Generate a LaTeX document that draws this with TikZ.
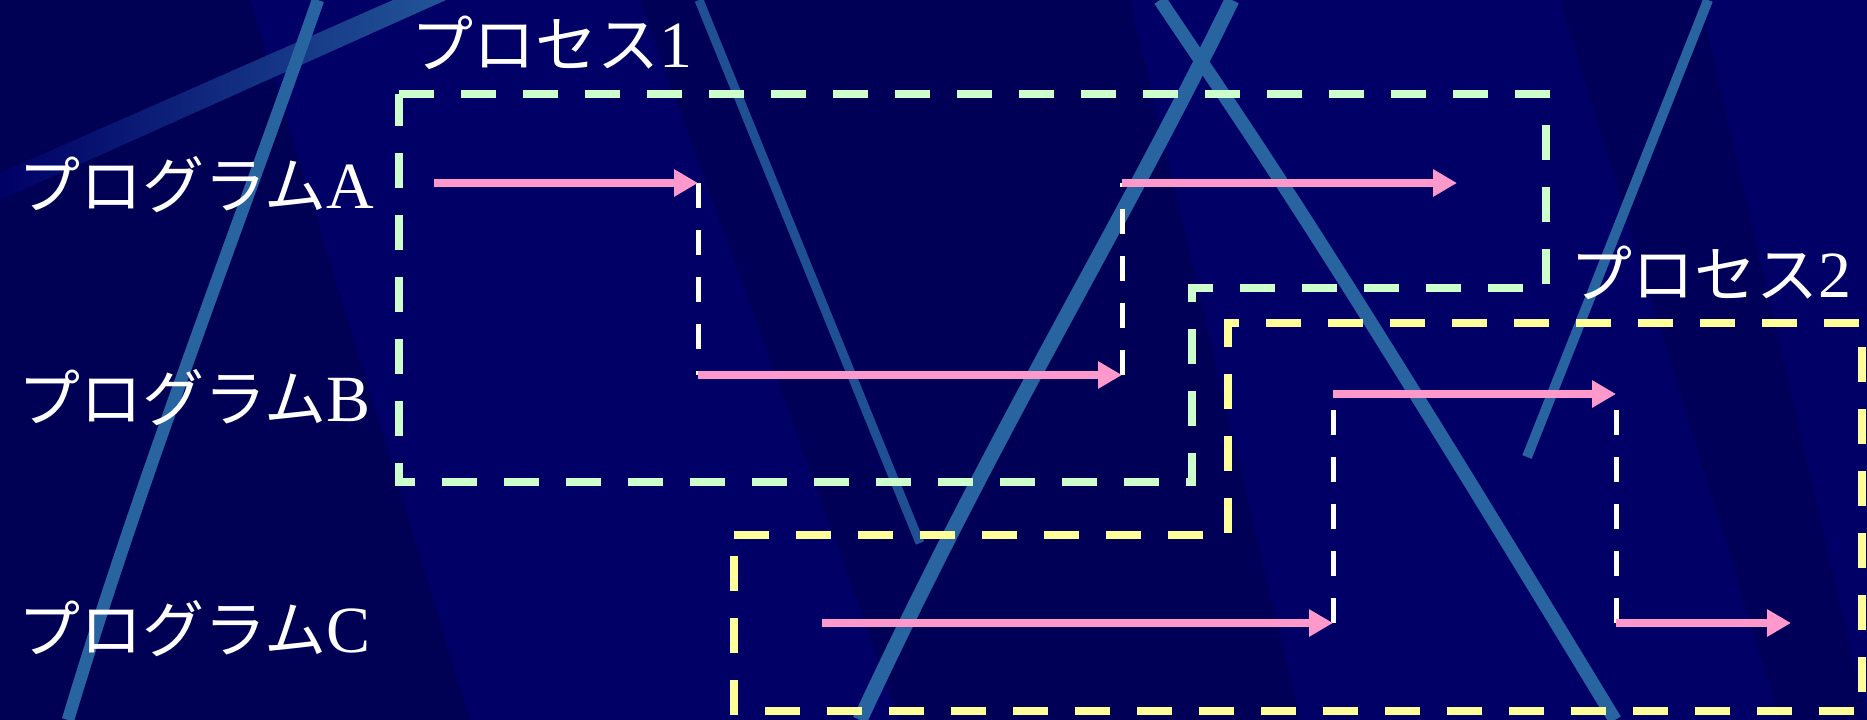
\documentclass[tikz,border=0pt]{standalone}
\usepackage{fontspec}
\setmainfont{Liberation Serif}
\newfontfamily\jpfont{Noto Sans CJK JP}
\usetikzlibrary{arrows.meta}
\definecolor{bgnavy}{RGB}{0,0,102}
\definecolor{bgdark}{RGB}{0,0,78}
\definecolor{streak}{RGB}{40,100,160}
\definecolor{procgreen}{RGB}{204,255,204}
\definecolor{procyellow}{RGB}{255,255,153}
\definecolor{flowpink}{RGB}{255,153,204}
\newcommand{\mixlabel}[2]{{\jpfont\fontsize{24.8}{29}\selectfont #1}{\fontsize{26.4}{30}\selectfont #2}}
\tikzset{
  lab/.style={text=white, inner sep=0pt, anchor=base west},
  greenproc/.style={draw=procgreen, line width=3.2pt, dash pattern=on 14pt off 10.8pt, line join=miter},
  yellowproc/.style={draw=procyellow, line width=3.2pt, dash pattern=on 14pt off 10.8pt, line join=miter},
  flow/.style={draw=flowpink, line width=3.4pt, -{Triangle[length=9.6pt,width=10.4pt]}},
  waitline/.style={draw=white, line width=2pt, dash pattern=on 10pt off 8.8pt},
  streakline/.style={draw=streak, line cap=butt}
}
\begin{document}
\begin{tikzpicture}[x=0.4pt,y=-0.4pt]
\useasboundingbox (0,0) rectangle (1867,720);
% background
\fill[bgnavy] (0,0) rectangle (1867,720);
\fill[bgdark, opacity=0.7] (0,0) -- (250,0) -- (470,720) -- (0,720) -- cycle;
\fill[bgdark, opacity=0.6] (640,0) -- (1130,0) -- (1300,720) -- (900,720) -- cycle;
\fill[bgdark, opacity=0.5] (1560,0) -- (1700,0) -- (1867,720) -- (1780,720) -- cycle;
% streaks
\shade[left color=bgnavy, right color=streak!85!bgnavy] (0,173) -- (393,0) -- (446,0) -- (0,200) -- cycle;
\draw[streakline, line width=5pt] (318,0) .. controls (230,250) and (140,480) .. (68,720);
\draw[streakline, line width=3.6pt, draw=streak!80!bgnavy] (699,0) -- (920,543);
\draw[streakline, line width=6pt] (1232,0) .. controls (1120,230) and (1000,420) .. (860,720);
\draw[streakline, line width=5.4pt] (1160,0) .. controls (1240,120) and (1300,200) .. (1615,720);
\draw[streakline, line width=4pt] (1708,0) -- (1527,457);
% process outlines
\draw[greenproc] (399,94) -- (1546,94) -- (1546,288) -- (1192,288) -- (1192,482) -- (399,482) -- cycle;
\draw[yellowproc] (734,535) -- (1228,535) -- (1228,323) -- (1862,323) -- (1862,711) -- (734,711) -- cycle;
% labels
\node[lab] (proc1) at (411,68) {\mixlabel{プロセス}{1}};
\node[lab] (proc2) at (1570,297) {\mixlabel{プロセス}{2}};
\node[lab] (progA) at (18,208) {\mixlabel{プログラム}{A}};
\node[lab] (progB) at (18,421) {\mixlabel{プログラム}{B}};
\node[lab] (progC) at (18,652) {\mixlabel{プログラム}{C}};
% flow coordinates
\coordinate (a0) at (434,183);
\coordinate (a1) at (698,183);
\coordinate (b1) at (698,375);
\coordinate (b2) at (1122,375);
\coordinate (a2) at (1122,183);
\coordinate (a3) at (1457,183);
\coordinate (c0) at (822,623);
\coordinate (c1) at (1333,623);
\coordinate (b3) at (1333,394);
\coordinate (b4) at (1616,394);
\coordinate (c2) at (1616,623);
\coordinate (c3) at (1791,623);
% waits
\draw[waitline] (a1) -- (b1);
\draw[waitline] (b2) -- (a2);
\draw[waitline] (c1) -- (b3);
\draw[waitline] (c2) -- (b4);
% flows
\draw[flow] (a0) -- (a1);
\draw[flow] (b1) -- (b2);
\draw[flow] (a2) -- (a3);
\draw[flow] (c0) -- (c1);
\draw[flow] (b3) -- (b4);
\draw[flow] (c2) -- (c3);
\end{tikzpicture}
\end{document}
